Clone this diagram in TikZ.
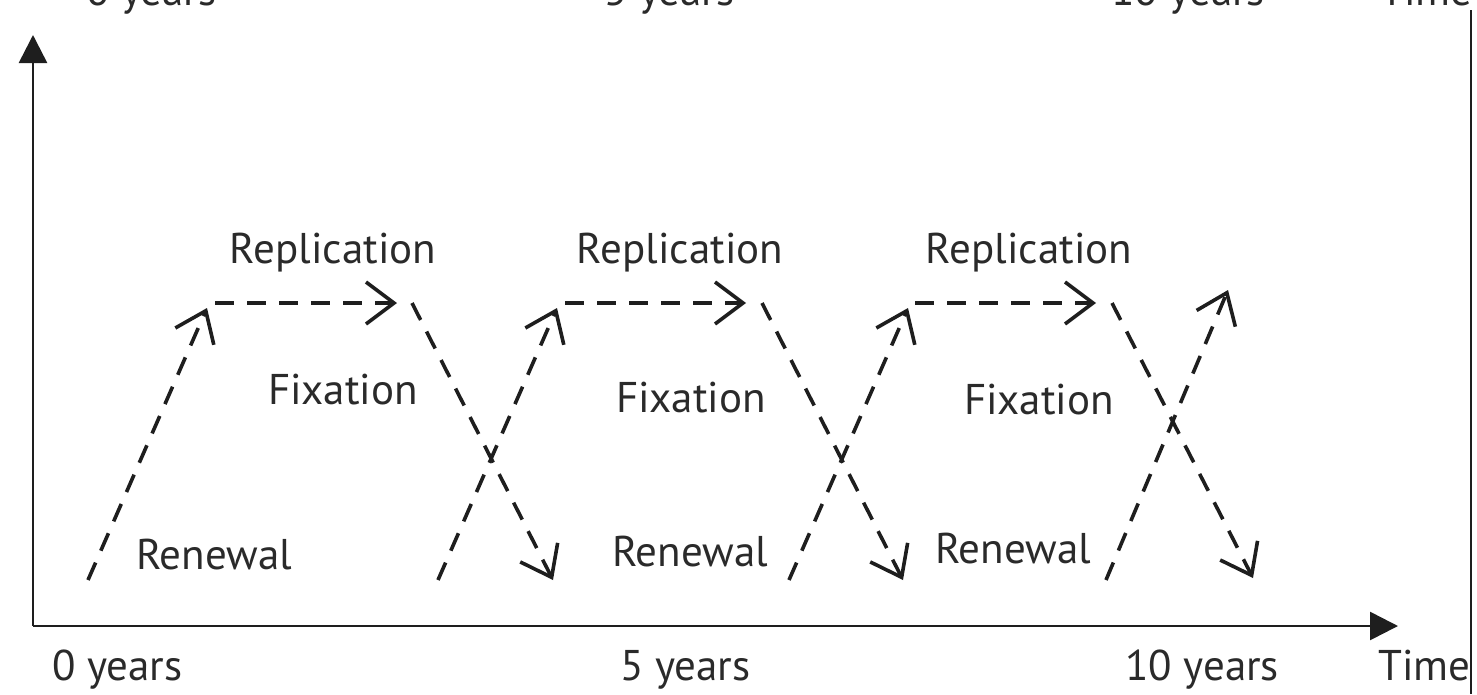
\documentclass[tikz,border=0pt]{standalone}
\usepackage{fontspec}
\setmainfont{PT Sans}
\usetikzlibrary{arrows.meta}
\definecolor{ink}{HTML}{1E1E1E}
\definecolor{txt}{HTML}{2A2A2A}
\begin{document}
\begin{tikzpicture}[x=1pt,y=-1pt,
  lbl/.style={text=txt,font=\fontsize{43}{50}\selectfont,inner sep=0pt},
  axis/.style={draw=ink,line width=2.6pt,-{Triangle[length=28pt,width=28pt]}},
  flow/.style={draw=ink,line width=3.6pt,dash pattern=on 19pt off 13pt,
    -{Straight Barb[length=28pt,width=42pt,line width=3.6pt]}}]
\useasboundingbox (0,0) rectangle (1477,694);
\clip (0,0) rectangle (1477,694);
% axes
\coordinate (O) at (33,626);
\coordinate (Ytop) at (33,35);
\coordinate (Xend) at (1398,626);
\draw[axis] (O) -- (Ytop);
\draw[axis] (O) -- (Xend);
% right frame line
\coordinate (R1) at (1471,10);
\coordinate (R2) at (1471,694);
\draw[ink,line width=2.6pt] (R1) -- (R2);
% bottom labels
\node[lbl,anchor=base west] (b0) at (52,680) {0 years};
\node[lbl,anchor=base west] (b5) at (620,680) {5 years};
\node[lbl,anchor=base west] (b10) at (1125,680) {10 years};
\node[lbl,anchor=base west] (bT) at (1378,680) {Time};
% cut-off top labels (the reference shows only their lower part)
\node[lbl,anchor=base west] (t0) at (86,5) {0 years};
\node[lbl,anchor=base west] (t5) at (604,5) {5 years};
\node[lbl,anchor=base west] (t10) at (1111,5) {10 years};
\node[lbl,anchor=base west] (tT) at (1380,5) {Time};
% cycle 1
\coordinate (a1) at (88,580);  \coordinate (a2) at (207,308);
\coordinate (h1) at (215,303); \coordinate (h2) at (397,303);
\coordinate (d1) at (412,303); \coordinate (d2) at (553,580);
% cycle 2
\coordinate (b1) at (438,580); \coordinate (b2) at (557,308);
\coordinate (i1) at (565,303); \coordinate (i2) at (746,303);
\coordinate (e1) at (762,303); \coordinate (e2) at (903,580);
% cycle 3
\coordinate (c1) at (789,580); \coordinate (c2) at (908,308);
\coordinate (j1) at (915,303); \coordinate (j2) at (1096,303);
\coordinate (f1) at (1112,303); \coordinate (f2) at (1253,578);
% cycle 4
\coordinate (g1) at (1106,580); \coordinate (g2) at (1228,290);
\foreach \s/\t in {a1/a2,h1/h2,d1/d2,b1/b2,i1/i2,e1/e2,c1/c2,j1/j2,f1/f2,g1/g2}
  \draw[flow] (\s) -- (\t);
% labels
\node[lbl] (rep1) at (333,253) {Replication};
\node[lbl] (rep2) at (680,253) {Replication};
\node[lbl] (rep3) at (1029,253) {Replication};
\node[lbl] (fix1) at (343,390) {Fixation};
\node[lbl] (fix2) at (691,398) {Fixation};
\node[lbl] (fix3) at (1039,400) {Fixation};
\node[lbl] (ren1) at (214,555) {Renewal};
\node[lbl] (ren2) at (690,552) {Renewal};
\node[lbl] (ren3) at (1013,549) {Renewal};
\end{tikzpicture}
\end{document}
